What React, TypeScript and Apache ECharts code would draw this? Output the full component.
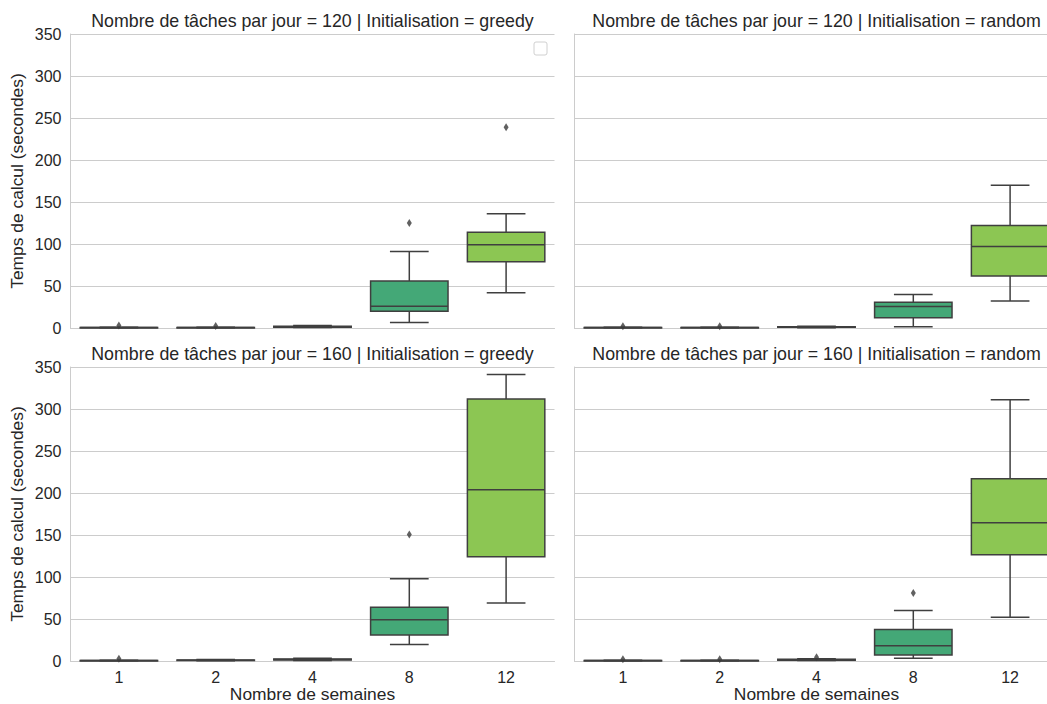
import React, { useEffect, useRef } from "react";
import * as echarts from "echarts";

const categories = ["1", "2", "4", "8", "12"];
const panelTitles = [
  "Nombre de tâches par jour = 120 | Initialisation = greedy",
  "Nombre de tâches par jour = 120 | Initialisation = random",
  "Nombre de tâches par jour = 160 | Initialisation = greedy",
  "Nombre de tâches par jour = 160 | Initialisation = random",
];
const yTicks = [0, 50, 100, 150, 200, 250, 300, 350];

// [min, Q1, median, Q3, max] per category
const boxes120Greedy = [
  [0.2, 0.4, 0.5, 0.7, 1.0],
  [0.2, 0.4, 0.5, 0.7, 1.0],
  [0.5, 1.0, 1.5, 2.2, 3.0],
  [6.5, 20, 26, 56, 91],
  [42, 79, 99, 114, 136],
];
const boxes120Random = [
  [0.2, 0.4, 0.5, 0.7, 1.0],
  [0.2, 0.4, 0.5, 0.7, 1.0],
  [0.4, 0.8, 1.2, 1.6, 2.2],
  [1.6, 12.3, 25.5, 30.6, 40],
  [32, 62, 97, 122, 170],
];
const boxes160Greedy = [
  [0.2, 0.4, 0.5, 0.7, 1.0],
  [0.4, 0.8, 1.0, 1.3, 1.8],
  [0.6, 1.2, 1.8, 2.4, 3.2],
  [19.5, 31, 49, 64, 98],
  [69, 124, 204, 312, 341],
];
const boxes160Random = [
  [0.2, 0.4, 0.5, 0.7, 1.0],
  [0.2, 0.4, 0.5, 0.7, 1.0],
  [0.5, 1.0, 1.4, 2.0, 2.8],
  [3.2, 7.2, 18.3, 37.4, 60],
  [52, 126.6, 164.5, 217, 311],
];

// outliers: [category index, value]
const outliers120Greedy = [[0, 3], [1, 2.5], [3, 125], [4, 239]];
const outliers120Random = [[0, 2.2], [1, 2.2]];
const outliers160Greedy = [[0, 2.8], [3, 150.5]];
const outliers160Random = [[0, 2.2], [1, 2.2], [2, 4.5], [3, 81]];

const boxColors = ["#4a2c68", "#4b4e80", "#38778b", "#44a877", "#8cc653"];

const FONT = "'Liberation Sans', Arial, sans-serif";
const TEXT = "#262626";
const LINE = "#3f3f3f";

export default function App() {
  const ref = useRef<HTMLDivElement>(null);

  useEffect(() => {
    if (!ref.current) return;
    const chart = echarts.init(ref.current, null, { renderer: "svg" });

    const grids = [
      { left: 70.5, top: 34, width: 484, height: 294 },
      { left: 574.5, top: 34, width: 484, height: 294 },
      { left: 70.5, top: 367, width: 484, height: 294 },
      { left: 574.5, top: 367, width: 484, height: 294 },
    ];
    const boxSets = [boxes120Greedy, boxes120Random, boxes160Greedy, boxes160Random];
    const outlierSets = [outliers120Greedy, outliers120Random, outliers160Greedy, outliers160Random];

    const xAxes = grids.map((_, i) => ({
      type: "category",
      gridIndex: i,
      data: categories,
      boundaryGap: true,
      axisLine: { show: true, lineStyle: { color: "#cccccc", width: 1 } },
      axisTick: { show: false },
      axisLabel: {
        show: i >= 2,
        color: TEXT,
        fontSize: 16,
        fontFamily: FONT,
        margin: 8,
      },
      splitLine: { show: false },
      name: i >= 2 ? "Nombre de semaines" : "",
      nameLocation: "middle",
      nameGap: 24,
      nameTextStyle: { color: TEXT, fontSize: 17.4, lineHeight: 17, fontFamily: FONT },
    }));

    const yAxes = grids.map((_, i) => ({
      type: "value",
      gridIndex: i,
      min: 0,
      max: 350,
      interval: 50,
      axisLine: { show: true, lineStyle: { color: "#cccccc", width: 1 } },
      axisTick: { show: false },
      axisLabel: {
        show: i % 2 === 0,
        color: TEXT,
        fontSize: 16,
        fontFamily: FONT,
        margin: 9,
        formatter: (v: number) => (yTicks.includes(v) ? String(v) : ""),
      },
      splitLine: { show: true, lineStyle: { color: "#cccccc", width: 1 } },
      name: i % 2 === 0 ? "Temps de calcul (secondes)" : "",
      nameLocation: "middle",
      nameGap: 45,
      nameRotate: 90,
      nameTextStyle: { color: TEXT, fontSize: 17.4, fontFamily: FONT },
    }));

    const series: any[] = [];
    boxSets.forEach((set, i) => {
      series.push({
        type: "custom",
        xAxisIndex: i,
        yAxisIndex: i,
        clip: false,
        data: set.map((b, ci) => [ci, ...b]),
        renderItem: (params: any, api: any) => {
          const ci = api.value(0);
          const lo = api.coord([ci, api.value(1)]);
          const q1 = api.coord([ci, api.value(2)]);
          const med = api.coord([ci, api.value(3)]);
          const q3 = api.coord([ci, api.value(4)]);
          const hi = api.coord([ci, api.value(5)]);
          const band = api.size([1, 0])[0];
          const bw = band * 0.8;
          const cx = lo[0];
          const half = bw / 2;
          const cap = bw / 4;
          const ls = { stroke: LINE, lineWidth: 1.5 };
          return {
            type: "group",
            children: [
              { type: "line", shape: { x1: cx, y1: hi[1], x2: cx, y2: q3[1] }, style: ls },
              { type: "line", shape: { x1: cx, y1: q1[1], x2: cx, y2: lo[1] }, style: ls },
              { type: "line", shape: { x1: cx - cap, y1: hi[1], x2: cx + cap, y2: hi[1] }, style: ls },
              { type: "line", shape: { x1: cx - cap, y1: lo[1], x2: cx + cap, y2: lo[1] }, style: ls },
              {
                type: "rect",
                shape: { x: cx - half, y: q3[1], width: bw, height: Math.max(q1[1] - q3[1], 0.5) },
                style: { fill: boxColors[ci], stroke: LINE, lineWidth: 1.5 },
              },
              { type: "line", shape: { x1: cx - half, y1: med[1], x2: cx + half, y2: med[1] }, style: ls },
            ],
          };
        },
      });
      series.push({
        type: "scatter",
        xAxisIndex: i,
        yAxisIndex: i,
        symbol: "diamond",
        symbolSize: [5, 8],
        itemStyle: { color: "#3a3a3a" },
        data: outlierSets[i].map((o) => [categories[o[0]], o[1]]),
        z: 5,
      });
    });

    const titleCenters = [
      [312.5, 12],
      [816.5, 12],
      [312.5, 345],
      [816.5, 345],
    ];

    chart.setOption({
      animation: false,
      backgroundColor: "#ffffff",
      title: panelTitles.map((t, i) => ({
        text: t,
        left: titleCenters[i][0],
        top: titleCenters[i][1],
        textAlign: "center",
        padding: 0,
        textStyle: { color: TEXT, fontSize: 17.8, fontWeight: "normal", fontFamily: FONT },
      })),
      grid: grids.map((g) => ({ ...g, containLabel: false, outerBoundsMode: "none" })),
      xAxis: xAxes,
      yAxis: yAxes,
      series,
      graphic: [
        {
          type: "rect",
          shape: { x: 534, y: 42, width: 13, height: 13, r: 2 },
          style: { fill: "#ffffff", stroke: "#d0d0d0", lineWidth: 1 },
          z: 10,
        },
      ],
    });

    return () => chart.dispose();
  }, []);

  return (
    <div
      ref={ref}
      style={{ position: "absolute", left: 0, top: 0, width: 1047, height: 704, background: "#fff" }}
    />
  );
}
